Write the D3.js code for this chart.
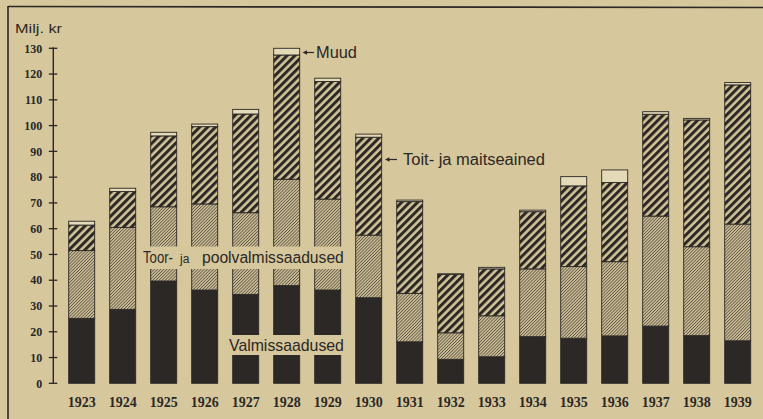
<!DOCTYPE html>
<html>
<head>
<meta charset="utf-8">
<script src="https://cdn.jsdelivr.net/npm/d3@7"></script>
<style>
  html, body { margin: 0; padding: 0; background: #d6c79c; }
  svg { display: block; }
</style>
</head>
<body>
<svg id="chart" width="763" height="419"></svg>
<script>
// Eesti väliskaubandus 1923–1939, miljonites kroonides
const years = ["1923","1924","1925","1926","1927","1928","1929","1930","1931","1932","1933","1934","1935","1936","1937","1938","1939"];
const valmissaadused = [25.2, 28.7, 39.7, 36.2, 34.5, 37.9, 36.2, 33.2, 16.1, 9.3, 10.3, 18.1, 17.5, 18.4, 22.2, 18.5, 16.5];
const toorPoolvalmis = [26.3, 31.8, 28.8, 33.4, 31.7, 41.3, 35.3, 24.3, 18.8, 10.3, 15.9, 26.3, 27.8, 28.8, 42.7, 34.5, 45.3];
const toitMaitse     = [9.9, 13.9, 27.5, 30.0, 38.3, 48.2, 45.6, 38.0, 35.6, 22.7, 18.2, 22.2, 31.3, 30.7, 39.5, 49.2, 54.0];
const muud           = [1.5, 1.3, 1.4, 1.0, 1.8, 2.6, 1.3, 1.2, 0.6, 0.2, 0.6, 0.6, 3.6, 4.9, 1.0, 0.6, 0.9];
const yTicks = [0, 10, 20, 30, 40, 50, 60, 70, 80, 90, 100, 110, 120, 130];

const seriesKeys = ["valmis", "toor", "toit", "muud"];
const rows = years.map((y, i) => ({
  year: y,
  valmis: valmissaadused[i],
  toor: toorPoolvalmis[i],
  toit: toitMaitse[i],
  muud: muud[i]
}));

const paper = "#d6c79c";
const ink = "#2b2825";

const svg = d3.select("#chart");

// stripe patterns
const defs = svg.append("defs");
const bold = defs.append("pattern")
  .attr("id", "boldStripe").attr("patternUnits", "userSpaceOnUse")
  .attr("width", 5.6).attr("height", 10).attr("patternTransform", "rotate(45)");
bold.append("rect").attr("width", 5.6).attr("height", 10).attr("fill", "#d2c398");
bold.append("rect").attr("width", 3.0).attr("height", 10).attr("fill", ink);

const fine = defs.append("pattern")
  .attr("id", "fineHatch").attr("patternUnits", "userSpaceOnUse")
  .attr("width", 2.2).attr("height", 10).attr("patternTransform", "rotate(45)");
fine.append("rect").attr("width", 2.2).attr("height", 10).attr("fill", "#cfc096");
fine.append("rect").attr("width", 0.8).attr("height", 10).attr("fill", "#5b5347");

const fills = {
  valmis: ink,
  toor: "url(#fineHatch)",
  toit: "url(#boldStripe)",
  muud: "#e4dab8"
};

// scales
const x = d3.scaleBand().domain(years).range([61.2, 758.2])
  .paddingInner(0.366).paddingOuter(0.183);
const y = d3.scaleLinear().domain([0, 130]).range([383.3, 48.3]);

// frame
svg.append("line").attr("x1", 8).attr("y1", 6).attr("x2", 8).attr("y2", 419)
  .attr("stroke", ink).attr("stroke-width", 1.6);
svg.append("line").attr("x1", 8).attr("y1", 6.5).attr("x2", 763).attr("y2", 7.5)
  .attr("stroke", ink).attr("stroke-width", 1.6);

// stacked bars
const stacked = d3.stack().keys(seriesKeys)(rows);
const layers = svg.append("g").selectAll("g").data(stacked).join("g")
  .attr("fill", d => fills[d.key]);
layers.selectAll("rect").data(d => d).join("rect")
  .attr("x", d => x(d.data.year))
  .attr("y", d => y(d[1]))
  .attr("width", x.bandwidth())
  .attr("height", d => y(d[0]) - y(d[1]))
  .attr("stroke", ink).attr("stroke-width", 0.9);

// y axis
const axis = svg.append("g").attr("transform", "translate(53.3,0)");
axis.append("line").attr("y1", y(0)).attr("y2", y(130) - 1)
  .attr("stroke", ink).attr("stroke-width", 1.4);
axis.selectAll("line.tick").data(yTicks).join("line").attr("class", "tick")
  .attr("x1", -4.5).attr("x2", 4).attr("y1", d => y(d)).attr("y2", d => y(d))
  .attr("stroke", ink).attr("stroke-width", 1.3);
axis.selectAll("text").data(yTicks).join("text")
  .attr("x", -11).attr("y", d => y(d)).attr("dy", "0.35em")
  .attr("text-anchor", "end")
  .attr("font-family", "Liberation Serif, serif").attr("font-weight", "bold")
  .attr("font-size", 12).attr("fill", ink)
  .text(d => d);

// year labels
svg.append("g").selectAll("text").data(years).join("text")
  .attr("x", d => x(d) + x.bandwidth() / 2).attr("y", 407)
  .attr("text-anchor", "middle")
  .attr("font-family", "Liberation Serif, serif").attr("font-weight", "bold")
  .attr("font-size", 14).attr("fill", ink)
  .text(d => d);

// narrow sans lettering: squeeze a label horizontally to a set width
const sans = "Liberation Sans, Arial, sans-serif";
function label(str, x0, y0, size, width) {
  const t = svg.append("text").attr("font-family", sans).attr("font-size", size)
    .attr("fill", ink).text(str);
  const natural = t.node().getComputedTextLength();
  const k = width ? width / natural : 1;
  t.attr("transform", `translate(${x0},${y0}) scale(${k},1)`);
  return t;
}

label("Milj. kr", 15, 33, 13, 47);

// clear the bars behind the in-chart labels
svg.append("rect").attr("x", 140).attr("y", 246.5).attr("width", 207).attr("height", 22.5).attr("fill", paper);
svg.append("rect").attr("x", 225).attr("y", 335).attr("width", 123).attr("height", 20).attr("fill", paper);

label("Toor-", 143, 263, 17, 30);
label("ja", 180, 263, 12, null);
label("poolvalmissaadused", 202, 263, 17, 142);
label("Valmissaadused", 229, 351, 16, 115);

// pointer arrows
function arrow(x0, x1, yy) {
  svg.append("line").attr("x1", x0 + 3).attr("x2", x1).attr("y1", yy).attr("y2", yy)
    .attr("stroke", ink).attr("stroke-width", 1.2);
  svg.append("path").attr("d", `M${x0},${yy} L${x0 + 4.5},${yy - 2.3} L${x0 + 4.5},${yy + 2.3} Z`)
    .attr("fill", ink);
}
arrow(302.5, 314, 52.5);
label("Muud", 316, 57.5, 16, 41);

arrow(385, 397, 159.5);
label("Toit- ja maitseained", 403, 165, 16, 142);
</script>
</body>
</html>
